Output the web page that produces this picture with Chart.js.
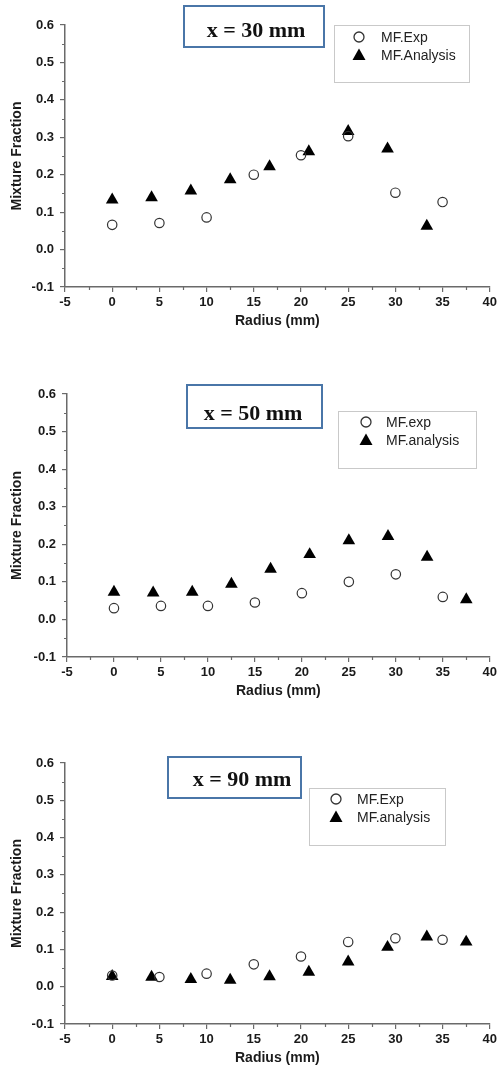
<!DOCTYPE html>
<html>
<head>
<meta charset="utf-8">
<script src="https://cdn.jsdelivr.net/npm/chart.js@4.4.1/dist/chart.umd.min.js"></script>
<style>
  html, body { margin: 0; padding: 0; background: #fff; }
  body { width: 500px; height: 1067px; position: relative; overflow: hidden; }
  canvas { position: absolute; left: 0; }
  .tbox { position: absolute; border: 2px solid #4a76a8; box-sizing: border-box;
          font-family: "Liberation Serif", "Times New Roman", serif; font-weight: bold;
          font-size: 22px; color: #111; }
  .tbox span { position: absolute; white-space: nowrap; transform: translate(-50%, -50%); }
  .lbox { position: absolute; border: 1.5px solid #c9c9c9; box-sizing: border-box; }
  .lrow { position: absolute; font-family: "Liberation Sans", Arial, sans-serif; font-size: 14px;
          color: #222; white-space: nowrap; transform: translateY(-50%); }
  .mk { position: absolute; transform: translate(-50%, -50%); }
</style>
</head>
<body>
<canvas id="c1" width="500" height="340" style="top:0px"></canvas>
<canvas id="c2" width="500" height="360" style="top:340px"></canvas>
<canvas id="c3" width="500" height="367" style="top:700px"></canvas>

<script>
// ---------------- DATA ----------------
const radiusExp = [0, 5, 10, 15, 20, 25, 30, 35];
const radiusAnalysis = [0, 4.17, 8.33, 12.5, 16.67, 20.83, 25, 29.17, 33.33, 37.5];

const exp30 = [0.066, 0.071, 0.086, 0.200, 0.252, 0.303, 0.152, 0.127];
const ana30 = [0.133, 0.139, 0.157, 0.187, 0.222, 0.262, 0.316, 0.269, 0.063];

const exp50 = [0.030, 0.036, 0.036, 0.045, 0.070, 0.100, 0.120, 0.060];
const ana50 = [0.073, 0.071, 0.073, 0.094, 0.134, 0.173, 0.210, 0.221, 0.166, 0.053];

const exp90 = [0.030, 0.026, 0.035, 0.060, 0.081, 0.120, 0.130, 0.126];
const ana90 = [0.028, 0.026, 0.020, 0.018, 0.027, 0.039, 0.067, 0.106, 0.134, 0.120];

const panelTitles = ["x = 30 mm", "x = 50 mm", "x = 90 mm"];
const expLabels = ["MF.Exp", "MF.exp", "MF.Exp"];
const anaLabels = ["MF.Analysis", "MF.analysis", "MF.analysis"];

const xTickMin = -5, xTickMax = 40, xTickStep = 5;
const yTickMin = -0.1, yTickMax = 0.6, yTickStep = 0.1;
const xAxisTitle = "Radius (mm)";
const yAxisTitle = "Mixture Fraction";

// ---------------- LAYOUT ----------------
const panels = [
  { id: "c1", top: 0,   h: 340, left: 65, right: 490, areaTop: 25, areaBottom: 287,
    exp: exp30, ana: ana30,
    tbox: [183, 5, 142, 43, 254, 23], lbox: [334, 25, 136, 58], leg: [359, 381, 37, 55] },
  { id: "c2", top: 340, h: 360, left: 67, right: 492, areaTop: 54, areaBottom: 317,
    exp: exp50, ana: ana50,
    tbox: [186, 384, 137, 45, 251, 27], lbox: [338, 411, 139, 58], leg: [366, 386, 422, 440] },
  { id: "c3", top: 700, h: 367, left: 65, right: 491, areaTop: 63, areaBottom: 324,
    exp: exp90, ana: ana90,
    tbox: [167, 756, 135, 43, 240, 21], lbox: [309, 788, 137, 58], leg: [336, 357, 799, 817] }
];

const axisColor = "#6a6a6a";
const tickFont = { family: "'Liberation Sans', Arial, sans-serif", size: 13, weight: "bold" };
const titleFont = { family: "'Liberation Sans', Arial, sans-serif", size: 14, weight: "bold" };
const X_AXIS_H = 50;

const minorTicks = {
  id: "minorTicks",
  afterDraw(chart) {
    const ctx = chart.ctx;
    const xs = chart.scales.x, ys = chart.scales.y;
    const area = chart.chartArea;
    ctx.save();
    ctx.strokeStyle = axisColor;
    ctx.lineWidth = 1.2;
    ctx.beginPath();
    for (let v = xTickMin + xTickStep / 2; v < xTickMax; v += xTickStep) {
      const px = Math.round(xs.getPixelForValue(v)) + 0.5;
      ctx.moveTo(px, area.bottom);
      ctx.lineTo(px, area.bottom + 3);
    }
    for (let i = 0; i < 7; i++) {
      const v = yTickMin + yTickStep / 2 + i * yTickStep;
      const py = Math.round(ys.getPixelForValue(v)) + 0.5;
      ctx.moveTo(area.left, py);
      ctx.lineTo(area.left - 3, py);
    }
    ctx.stroke();
    ctx.restore();
  }
};

function fmtY(v) {
  if (Math.abs(v) < 1e-9) v = 0;
  return v.toFixed(1);
}

function makeChart(p) {
  const expPts = radiusExp.map((x, i) => ({ x: x, y: p.exp[i] })).filter(d => d.y !== undefined);
  const anaPts = p.ana.map((y, i) => ({ x: radiusAnalysis[i], y: y }));
  const padBottom = p.h - p.areaBottom - X_AXIS_H;
  new Chart(document.getElementById(p.id), {
    type: "scatter",
    data: {
      datasets: [
        { label: "exp", data: expPts, pointStyle: "circle", pointRadius: 4.7,
          borderColor: "#333", borderWidth: 1.2, backgroundColor: "rgba(0,0,0,0)", clip: false },
        { label: "analysis", data: anaPts, pointStyle: "triangle", pointRadius: 7.3,
          borderColor: "#000", borderWidth: 0, backgroundColor: "#000", clip: false }
      ]
    },
    options: {
      responsive: false, animation: false, devicePixelRatio: 1,
      layout: { padding: { left: 0, right: 500 - p.right, top: p.areaTop, bottom: padBottom } },
      plugins: { legend: { display: false }, tooltip: { enabled: false }, title: { display: false } },
      scales: {
        x: {
          type: "linear", min: xTickMin, max: xTickMax,
          afterFit(s) { s.height = X_AXIS_H; },
          ticks: { stepSize: xTickStep, font: tickFont, color: "#1a1a1a", padding: 3,
                   maxRotation: 0, autoSkip: false, callback: v => String(Math.round(v)) },
          grid: { drawOnChartArea: false, drawTicks: true, tickLength: 5, color: axisColor, lineWidth: 1.2 },
          border: { display: true, color: axisColor, width: 1.5 },
          title: { display: true, text: xAxisTitle, font: titleFont, color: "#1a1a1a",
                   padding: { top: 0, bottom: X_AXIS_H - 34 - 8.4 } }
        },
        y: {
          type: "linear", min: yTickMin, max: yTickMax,
          afterFit(s) { s.width = p.left; },
          ticks: { stepSize: yTickStep, font: tickFont, color: "#1a1a1a", padding: 6,
                   autoSkip: false, callback: v => fmtY(v) },
          grid: { drawOnChartArea: false, drawTicks: true, tickLength: 5, color: axisColor, lineWidth: 1.2 },
          border: { display: true, color: axisColor, width: 1.5 },
          title: { display: true, text: yAxisTitle, font: titleFont, color: "#1a1a1a",
                   padding: { top: 9, bottom: 0 } }
        }
      }
    },
    plugins: [minorTicks]
  });
}

function addBoxes(p, idx) {
  const [tx, ty, tw, th, cx, cy] = p.tbox;
  const t = document.createElement("div");
  t.className = "tbox";
  t.style.cssText = `left:${tx}px;top:${ty}px;width:${tw}px;height:${th}px;`;
  const s = document.createElement("span");
  s.textContent = panelTitles[idx];
  s.style.left = (cx - tx) + "px";
  s.style.top = cy + "px";
  t.appendChild(s);
  document.body.appendChild(t);

  const [lx, ly, lw, lh] = p.lbox;
  const l = document.createElement("div");
  l.className = "lbox";
  l.style.cssText = `left:${lx}px;top:${ly}px;width:${lw}px;height:${lh}px;`;
  document.body.appendChild(l);

  const [mx, txX, r1, r2] = p.leg;
  const c = document.createElementNS("http://www.w3.org/2000/svg", "svg");
  c.setAttribute("width", "14"); c.setAttribute("height", "14");
  c.setAttribute("class", "mk");
  c.style.left = mx + "px"; c.style.top = r1 + "px";
  c.innerHTML = '<circle cx="7" cy="7" r="5" fill="none" stroke="#333" stroke-width="1.3"/>';
  document.body.appendChild(c);

  const tr = document.createElementNS("http://www.w3.org/2000/svg", "svg");
  tr.setAttribute("width", "18"); tr.setAttribute("height", "16");
  tr.setAttribute("class", "mk");
  tr.style.left = mx + "px"; tr.style.top = r2 + "px";
  tr.innerHTML = '<polygon points="9,1.5 15.5,13 2.5,13" fill="#000"/>';
  document.body.appendChild(tr);

  const t1 = document.createElement("div");
  t1.className = "lrow"; t1.textContent = expLabels[idx];
  t1.style.left = txX + "px"; t1.style.top = r1 + "px";
  document.body.appendChild(t1);
  const t2 = document.createElement("div");
  t2.className = "lrow"; t2.textContent = anaLabels[idx];
  t2.style.left = txX + "px"; t2.style.top = r2 + "px";
  document.body.appendChild(t2);
}

panels.forEach((p, i) => { makeChart(p); addBoxes(p, i); });
</script>
</body>
</html>
